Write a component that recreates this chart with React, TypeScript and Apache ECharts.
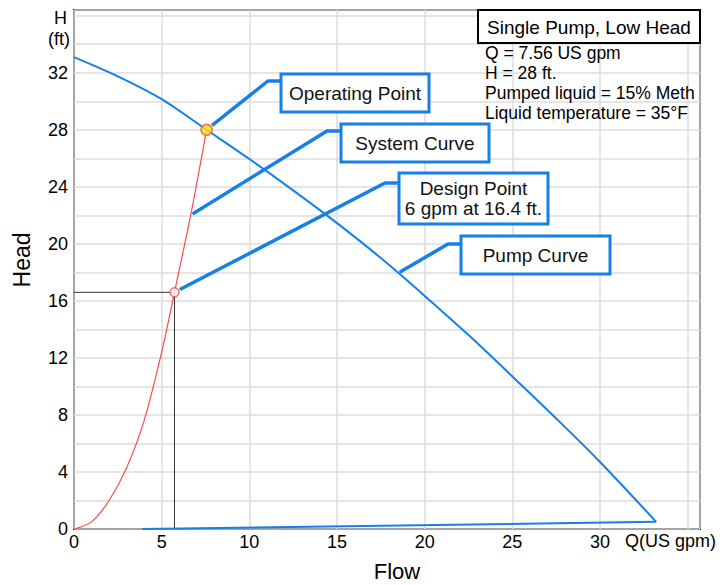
import React, { useEffect, useRef } from 'react';
import * as echarts from 'echarts';

// ---- data ----
const pumpFlow = [0, 2.5, 5, 7.56, 10, 12.5, 15, 17.5, 20, 22.5, 25, 27.5, 30, 33.2, 3.9];
const pumpHead = [33.1, 31.75, 30.15, 28.0, 25.95, 23.75, 21.45, 19.0, 16.35, 13.6, 10.7, 7.75, 4.7, 0.5, 0];
const systemFlow = [0, 1, 2, 3, 4, 5, 5.73, 6.7, 7.56];
const systemHead = [0, 0.5, 2.0, 4.3, 7.6, 12.4, 16.6, 22.3, 28.0];
const operatingPoint = [7.56, 28];
const designPoint = [5.73, 16.6];
const systemLabelAnchor = [6.76, 22.1];
const pumpLabelAnchor = [18.57, 18.0];
const xTickLabels = ['0', '5', '10', '15', '20', '25', '30'];
const yTickLabels = ['0', '4', '8', '12', '16', '20', '24', '28', '32'];
const xUnitLabel = 'Q(US gpm)';
const yUnitLabels = ['H', '(ft)'];
const xName = 'Flow';
const yName = 'Head';
const infoTitle = 'Single Pump, Low Head';
const infoLines = ['Q = 7.56 US gpm', 'H = 28 ft.', 'Pumped liquid = 15% Meth', 'Liquid temperature = 35°F'];
const calloutTexts = [['Operating Point'], ['System Curve'], ['Design Point', '6 gpm at 16.4 ft.'], ['Pump Curve']];

const FONT = '"Liberation Sans", Arial, sans-serif';
const BLUE = '#1680e6';
const RED = '#ff4a4a';

export default function App() {
  const ref = useRef<HTMLDivElement>(null);
  useEffect(() => {
    document.body.style.margin = '0';
    const chart = echarts.init(ref.current!, null, { renderer: 'svg' });
    const pumpData = pumpFlow.map((q, i) => [q, pumpHead[i]]);
    const pumpCurve = pumpData.slice(0, -1);
    const pumpReturn = pumpData.slice(-2);
    const sysData = systemFlow.map((q, i) => [q, systemHead[i]]);
    chart.setOption({
      animation: false,
      backgroundColor: '#fff',
      grid: { left: 74, right: 22, top: 10, bottom: 56, show: true, borderColor: '#000', borderWidth: 2, backgroundColor: '#fff' },
      xAxis: {
        type: 'value', min: 0, max: 35.7, interval: 5,
        axisLine: { show: false }, axisTick: { show: false },
        splitLine: { show: true, lineStyle: { color: '#dcdcdc', width: 1.5 } },
        axisLabel: {
          margin: 4, color: '#000', fontSize: 18, fontFamily: FONT,
          formatter: (v: number) => (xTickLabels.includes(String(v)) ? String(v) : ''),
        },
      },
      yAxis: {
        type: 'value', min: 0, max: 36.4, interval: 2,
        axisLine: { show: false }, axisTick: { show: false },
        splitLine: { show: true, lineStyle: { color: '#dcdcdc', width: 1.5 } },
        axisLabel: {
          margin: 6, color: '#000', fontSize: 18, fontFamily: FONT,
          formatter: (v: number) => (yTickLabels.includes(String(v)) ? String(v) : ''),
        },
      },
      series: [
        {
          type: 'line', data: pumpCurve, symbol: 'none', z: 3, smooth: 0.3,
          lineStyle: { color: BLUE, width: 2 },
        },
        {
          type: 'line', data: pumpReturn, symbol: 'none', z: 3,
          lineStyle: { color: BLUE, width: 2 },
        },
        {
          type: 'line', data: sysData, symbol: 'none', smooth: 0.3, z: 3,
          lineStyle: { color: RED, width: 1.2 },
        },
        {
          type: 'line', data: [[0, designPoint[1]], designPoint, [designPoint[0], 0]],
          symbol: 'none', z: 2, lineStyle: { color: '#333', width: 1 },
        },
        {
          type: 'scatter', data: [operatingPoint], symbol: 'circle', symbolSize: 11, z: 5,
          itemStyle: { color: '#ffe21a', borderColor: RED, borderWidth: 1.5 },
        },
        {
          type: 'scatter', data: [designPoint], symbol: 'circle', symbolSize: 9, z: 5,
          itemStyle: { color: '#fff', borderColor: RED, borderWidth: 1.5 },
        },
      ],
    });

    const px = (p: number[]) => chart.convertToPixel({ gridIndex: 0 }, p) as number[];
    const layouts = [
      { anchor: operatingPoint, offset: 7, bend: [268, 81], box: [281, 74, 148, 38] },
      { anchor: systemLabelAnchor, offset: 0, bend: [327, 131], box: [341, 124, 148, 38] },
      { anchor: designPoint, offset: 6, bend: [385, 183], box: [399, 173, 149, 51] },
      { anchor: pumpLabelAnchor, offset: 0, bend: [448, 244], box: [461, 236, 149, 38] },
    ];
    const graphics: any[] = [];
    layouts.forEach((l, i) => {
      const a = px(l.anchor);
      const dx = l.bend[0] - a[0];
      const dy = l.bend[1] - a[1];
      const len = Math.hypot(dx, dy);
      const start = [a[0] + (dx / len) * l.offset, a[1] + (dy / len) * l.offset];
      const [bx, by, bw, bh] = l.box;
      graphics.push({
        type: 'polyline', z: 100,
        shape: { points: [start, l.bend, [bx, l.bend[1]]] },
        style: { stroke: BLUE, lineWidth: 3.5, fill: 'none' },
      });
      graphics.push({
        type: 'rect', z: 101,
        shape: { x: bx, y: by, width: bw, height: bh },
        style: { fill: '#fff', stroke: BLUE, lineWidth: 3 },
      });
      graphics.push({
        type: 'text', z: 102,
        style: {
          x: bx + bw / 2, y: by + bh / 2, text: calloutTexts[i].join('\n'),
          textAlign: 'center', textVerticalAlign: 'middle', fill: '#111',
          font: `19px ${FONT}`, lineHeight: 20,
        },
      });
    });
    // info box
    graphics.push({
      type: 'rect', z: 101,
      shape: { x: 478, y: 10, width: 222, height: 33 },
      style: { fill: '#fff', stroke: '#000', lineWidth: 2 },
    });
    graphics.push({
      type: 'text', z: 102,
      style: { x: 589, y: 27, text: infoTitle, textAlign: 'center', textVerticalAlign: 'middle', fill: '#000', font: `19px ${FONT}` },
    });
    graphics.push({
      type: 'text', z: 102,
      style: { x: 485, y: 43, text: infoLines.join('\n'), textAlign: 'left', textVerticalAlign: 'top', fill: '#000', font: `17.5px ${FONT}`, lineHeight: 20 },
    });
    // axis unit labels and names
    graphics.push({
      type: 'text', z: 102,
      style: { x: 67, y: 18, text: yUnitLabels[0], textAlign: 'right', textVerticalAlign: 'middle', fill: '#000', font: `18px ${FONT}` },
    });
    graphics.push({
      type: 'text', z: 102,
      style: { x: 70, y: 39, text: yUnitLabels[1], textAlign: 'right', textVerticalAlign: 'middle', fill: '#000', font: `18px ${FONT}` },
    });
    graphics.push({
      type: 'text', z: 102,
      style: { x: 625, y: 541, text: xUnitLabel, textAlign: 'left', textVerticalAlign: 'middle', fill: '#000', font: `18px ${FONT}` },
    });
    graphics.push({
      type: 'text', z: 102,
      style: { x: 397, y: 571, text: xName, textAlign: 'center', textVerticalAlign: 'middle', fill: '#000', font: `22px ${FONT}` },
    });
    graphics.push({
      type: 'text', z: 102, x: 22, y: 260, rotation: Math.PI / 2,
      style: { x: 0, y: 0, text: yName, textAlign: 'center', textVerticalAlign: 'middle', fill: '#000', font: `23px ${FONT}` },
    });
    chart.setOption({ graphic: graphics });
    return () => chart.dispose();
  }, []);
  return <div ref={ref} style={{ width: 722, height: 585 }} />;
}
